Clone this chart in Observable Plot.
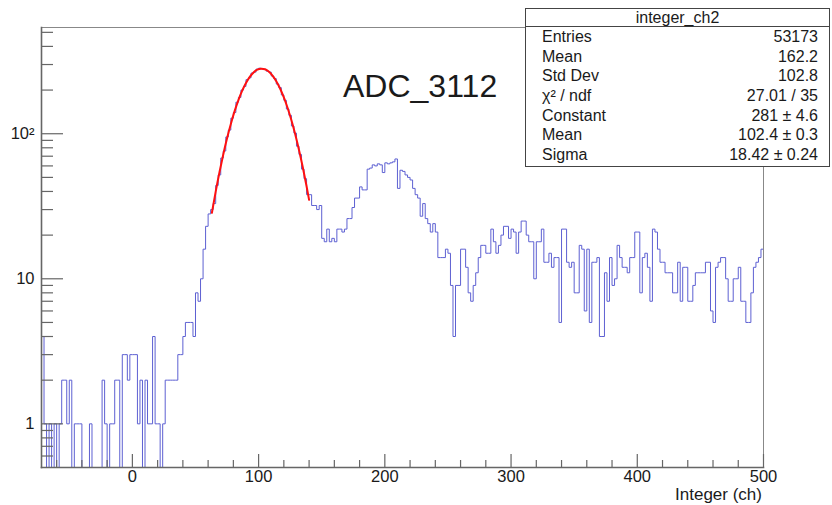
<!DOCTYPE html>
<html><head><meta charset="utf-8">
<script src="https://cdn.jsdelivr.net/npm/d3@7"></script>
<script src="https://cdn.jsdelivr.net/npm/@observablehq/plot@0.6"></script>
<style>
body{margin:0;background:#fff;}
#wrap{position:relative;width:832px;height:505px;font-family:"Liberation Sans",Arial,Helvetica,sans-serif;color:#1a1a1a;overflow:hidden;}
#chart{position:absolute;left:0;top:0;}
#title{position:absolute;left:343px;top:70px;font-size:32px;line-height:32px;white-space:nowrap;}
#xlabel{position:absolute;right:70px;top:486px;font-size:17px;line-height:17px;white-space:nowrap;}
#stats{position:absolute;left:525px;top:8px;width:305px;height:159px;border:1px solid #444;background:#fff;box-sizing:border-box;font-size:16px;}
#stats .hd{height:17px;line-height:17px;text-align:center;border-bottom:1px solid #444;}
#stats .row{height:19.7px;line-height:19.7px;position:relative;}
#stats .row .l{position:absolute;left:16px;}
#stats .row .r{position:absolute;right:11px;}
</style></head>
<body>
<div id="wrap">
  <div id="chart"></div>
  <div id="title"></div>
  <div id="xlabel"></div>
  <div id="stats"></div>
</div>
<script>
// ---- data ----
const binLo = -72;
const binW = 2;
const counts = [
  4, 1, 0, 1, 0, 1, 0, 1, 2, 2,
  1, 2, 0, 1, 1, 1, 0, 0, 0, 1,
  0, 0, 0, 0, 2, 1, 0, 1, 1, 2,
  2, 0, 3, 3, 2, 3, 3, 3, 1, 2,
  0, 2, 1, 1, 4, 1, 1, 0, 1, 2,
  2, 2, 2, 2, 3, 3, 4, 5, 5, 5,
  4, 8, 7, 10, 16, 23, 28, 30, 33, 44,
  52, 68, 76, 95, 106, 128, 140, 165, 178, 200,
  212, 236, 243, 262, 266, 279, 283, 280, 278, 270,
  266, 250, 240, 220, 208, 185, 170, 148, 134, 113,
  101, 82, 72, 57, 49, 38, 38, 32, 32, 30,
  32, 19, 18, 22, 18, 19, 18, 22, 22, 21,
  22, 26, 26, 31, 36, 36, 43, 41, 41, 57,
  58, 61, 60, 62, 61, 54, 63, 62, 63, 64,
  67, 42, 56, 55, 52, 50, 48, 42, 38, 36,
  27, 33, 26, 24, 21, 24, 21, 14, 14, 14,
  16, 15, 9, 4, 9, 9, 16, 16, 12, 8,
  7, 9, 11, 14, 17, 17, 15, 15, 22, 18,
  15, 17, 20, 23, 23, 19, 22, 21, 15, 21,
  25, 25, 20, 18, 18, 10, 18, 18, 22, 13,
  13, 15, 12, 14, 14, 5, 22, 22, 13, 12,
  13, 8, 8, 17, 16, 6, 16, 5, 13, 13,
  14, 4, 4, 11, 7, 14, 9, 10, 17, 14,
  12, 12, 11, 14, 14, 21, 21, 8, 14, 15,
  12, 7, 22, 21, 16, 13, 13, 11, 11, 11,
  8, 8, 13, 7, 12, 12, 7, 7, 9, 11,
  11, 11, 11, 13, 13, 6, 5, 12, 13, 14,
  14, 10, 7, 7, 10, 10, 12, 7, 7, 5,
  5, 8, 12, 13, 14, 16
];
const fitX = [63, 66, 69, 72, 75, 78, 81, 84, 87, 90, 93, 96, 99, 102, 105, 108, 111, 114, 117, 120, 123, 126, 129, 132, 135, 138, 140];
const fitY = [28.5, 39.9, 54.3, 72.0, 93.0, 116.9, 143.1, 170.6, 198.1, 224.0, 246.7, 264.5, 276.3, 281.0, 278.2, 268.3, 252.0, 230.4, 205.2, 178.0, 150.4, 123.7, 99.1, 77.3, 58.7, 43.4, 35.0];
const xTicks = [0, 100, 200, 300, 400, 500];
const xMinor = [-60, -40, -20, 20, 40, 60, 80, 120, 140, 160, 180, 220, 240, 260, 280, 320, 340, 360, 380, 420, 440, 460, 480];
const yTicks = [1, 10, 100];
const yTickLabels = ["1", "10", "10²"];
const yMinor = [0.6, 0.7, 0.8, 0.9, 2, 3, 4, 5, 6, 7, 8, 9, 20, 30, 40, 50, 60, 70, 80, 90, 200, 300, 400, 500];
const yDomain = [0.5, 540];
const titleText = "ADC_3112";
const histName = "integer_ch2";
const xLabelText = "Integer (ch)";
const statLabels = ["Entries", "Mean", "Std Dev", "χ² / ndf", "Constant", "Mean", "Sigma"];
const statValues = ["53173", "162.2", "102.8", "27.01 / 35", "281 ± 4.6", "102.4 ± 0.3", "18.42 ± 0.24"];

// ---- build ----
const W = 832, H = 505, mL = 41, mR = 69, mT = 27, mB = 38;
const plotW = W - mL - mR, plotH = H - mT - mB;
const yMin = yDomain[0];
const xEnd = binLo + counts.length * binW;
const pts = [{x: binLo, y: yMin}];
counts.forEach((c, i) => pts.push({x: binLo + i * binW, y: Math.max(c, yMin)}));
pts.push({x: xEnd, y: Math.max(counts[counts.length - 1], yMin)});
pts.push({x: xEnd, y: yMin});
const fit = fitX.map((x, i) => ({x, y: fitY[i]}));
const axisCol = "#666";

const chart = Plot.plot({
  width: W, height: H,
  marginLeft: mL, marginRight: mR, marginTop: mT, marginBottom: mB,
  style: {fontFamily: "'Liberation Sans', Arial, Helvetica, sans-serif", fontSize: "16.5px", color: "#1a1a1a", background: "transparent"},
  x: {domain: [binLo, xEnd]},
  y: {type: "log", domain: yDomain},
  marks: [
    Plot.line(pts, {x: "x", y: "y", curve: "step-after", stroke: "#5d60d2", strokeWidth: 1}),
    Plot.line(fit, {x: "x", y: "y", curve: "natural", stroke: "#ff1010", strokeWidth: 2}),
    Plot.frame({stroke: "#888", strokeWidth: 1}),
    Plot.frame({anchor: "left", stroke: axisCol, strokeWidth: 1.6}),
    Plot.frame({anchor: "bottom", stroke: axisCol, strokeWidth: 1.6}),
    Plot.tickY(yTicks, {y: d => d, insetRight: plotW - 22, stroke: axisCol, strokeWidth: 1.2}),
    Plot.tickY(yMinor, {y: d => d, insetRight: plotW - 12, stroke: axisCol, strokeWidth: 1.2}),
    Plot.tickX(xTicks, {x: d => d, insetTop: plotH - 13, stroke: axisCol, strokeWidth: 1.2}),
    Plot.tickX(xMinor, {x: d => d, insetTop: plotH - 7, stroke: axisCol, strokeWidth: 1.2}),
    Plot.axisX(xTicks, {tickSize: 0, tickPadding: 3, label: null, fontSize: 16.5}),
    Plot.axisY(yTicks, {tickSize: 0, tickPadding: 7, label: null, fontSize: 16.5,
      tickFormat: d => yTickLabels[yTicks.indexOf(d)]})
  ]
});
document.getElementById("chart").append(chart);
document.getElementById("title").textContent = titleText;
document.getElementById("xlabel").textContent = xLabelText;
const st = document.getElementById("stats");
const hd = document.createElement("div"); hd.className = "hd"; hd.textContent = histName; st.append(hd);
statLabels.forEach((l, i) => {
  const r = document.createElement("div"); r.className = "row";
  const a = document.createElement("span"); a.className = "l"; a.textContent = l;
  const b = document.createElement("span"); b.className = "r"; b.textContent = statValues[i];
  r.append(a, b); st.append(r);
});
</script>
</body></html>
